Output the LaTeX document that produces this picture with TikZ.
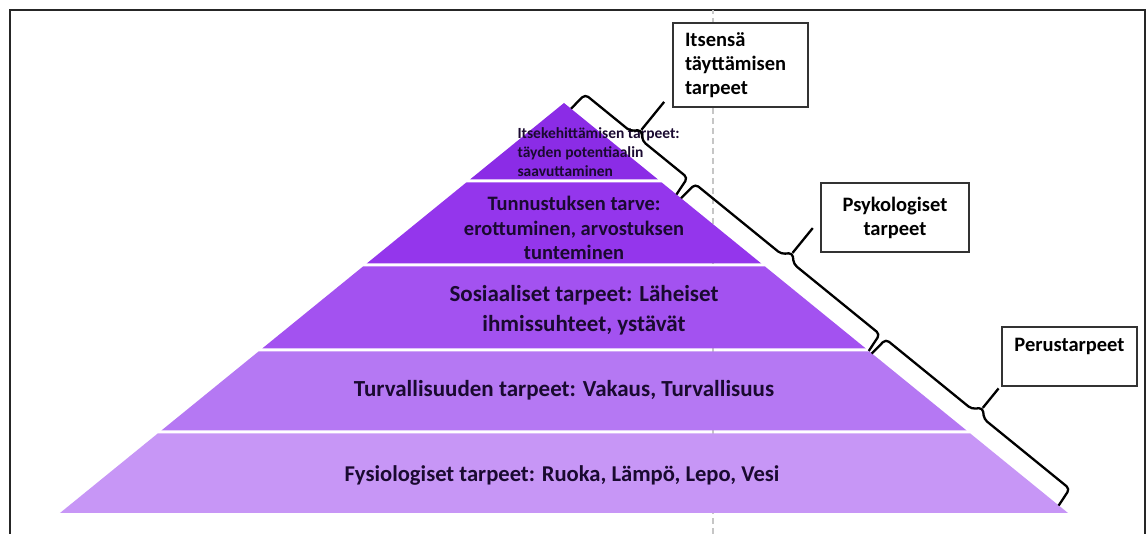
\documentclass[tikz,border=0pt]{standalone}
\usepackage{fontspec}
\setmainfont{Carlito}
\usetikzlibrary{calc}

\definecolor{layA}{RGB}{139,44,230}
\definecolor{layB}{RGB}{148,54,236}
\definecolor{layC}{RGB}{163,82,240}
\definecolor{layD}{RGB}{181,120,243}
\definecolor{layE}{RGB}{199,150,246}
\definecolor{txtdark}{RGB}{26,10,48}

\begin{document}
\begin{tikzpicture}[x=1pt,y=1pt,
        layer text/.style={font=\bfseries\fontsize{23}{30}\selectfont, text=txtdark, align=center},
        need box/.style={draw=black!80, line width=1.6pt, fill=white, inner sep=0pt,
            font=\bfseries\fontsize{20.5}{24}\selectfont},
        brace line/.style={line width=2.3pt, rounded corners=4pt, line join=round}
    ]
  \useasboundingbox (0,0) rectangle (1146,534);
  % frame and guide
  \draw[line width=2.5pt, black!85] (10,0) -- (10,524) -- (1145,524) -- (1145,0);
  \draw[gray!45, line width=1.2pt, dash pattern=on 6pt off 4pt] (713,0) -- (713,524);
  % pyramid layers
  \foreach \ya/\yb/\col in {21/100.5/layE, 103.5/182.5/layD, 185.5/267.5/layC,
                            270.5/351.5/layB, 354.5/431/layA}{
    \fill[\col] ({564-(431-\ya)*1.2293},\ya) -- ({564+(431-\ya)*1.2293},\ya)
      -- ({564+(431-\yb)*1.2293},\yb) -- ({564-(431-\yb)*1.2293},\yb) -- cycle;
  }
  \node[layer text, font=\bfseries\fontsize{22.6}{30}\selectfont] (fysio) at (562,59)
    {Fysiologiset tarpeet: Ruoka, Lämpö, Lepo, Vesi};
  \node[layer text] (turva) at (564,144) {Turvallisuuden tarpeet: Vakaus, Turvallisuus};
  \node[layer text] (sosiaali) at (584,224) {Sosiaaliset tarpeet: Läheiset\\ihmissuhteet, ystävät};
  \node[layer text, font=\bfseries\fontsize{20.5}{24.5}\selectfont] (tunnustus) at (574,306)
    {Tunnustuksen tarve:\\erottuminen, arvostuksen\\tunteminen};
  \node[layer text, align=left, anchor=west, font=\bfseries\fontsize{15.5}{19}\selectfont] (itse) at (514,382)
    {Itsekehittämisen tarpeet:\\täyden potentiaalin\\saavuttaminen};
  % callout boxes
  \node[need box, minimum width=135pt, minimum height=84pt, text width=111pt, align=left] (itsensa) at (740.5,469)
    {Itsensä\\täyttämisen\\tarpeet};
  \node[need box, minimum width=148pt, minimum height=69pt, text width=130pt, align=center] (psyko) at (895,316.5)
    {Psykologiset\\tarpeet};
  \node[need box, minimum width=135pt, minimum height=59pt, text width=120pt, align=center] (perus) at (1069.5,177.5)
    {Perustarpeet\\~};
  % braces
  \foreach \i/\t/\L/\h in {1/9/136/64, 2/151/242/60, 3/397/241/53}{
    \begin{scope}[shift={({564+0.775*\t},{431-0.631*\t})}, rotate=-39.13]
      \draw[brace line] (0,0) -- (2,20) -- ({\L/2-8},20) -- ({\L/2},28) -- ({\L/2+8},20) -- ({\L-2},20) -- (\L,0);
      \coordinate (tip\i) at ({\L/2},28);
      \coordinate (callout\i) at ({\L/2},\h);
    \end{scope}
    \draw[brace line] (tip\i) -- (callout\i);
  }
\end{tikzpicture}
\end{document}
